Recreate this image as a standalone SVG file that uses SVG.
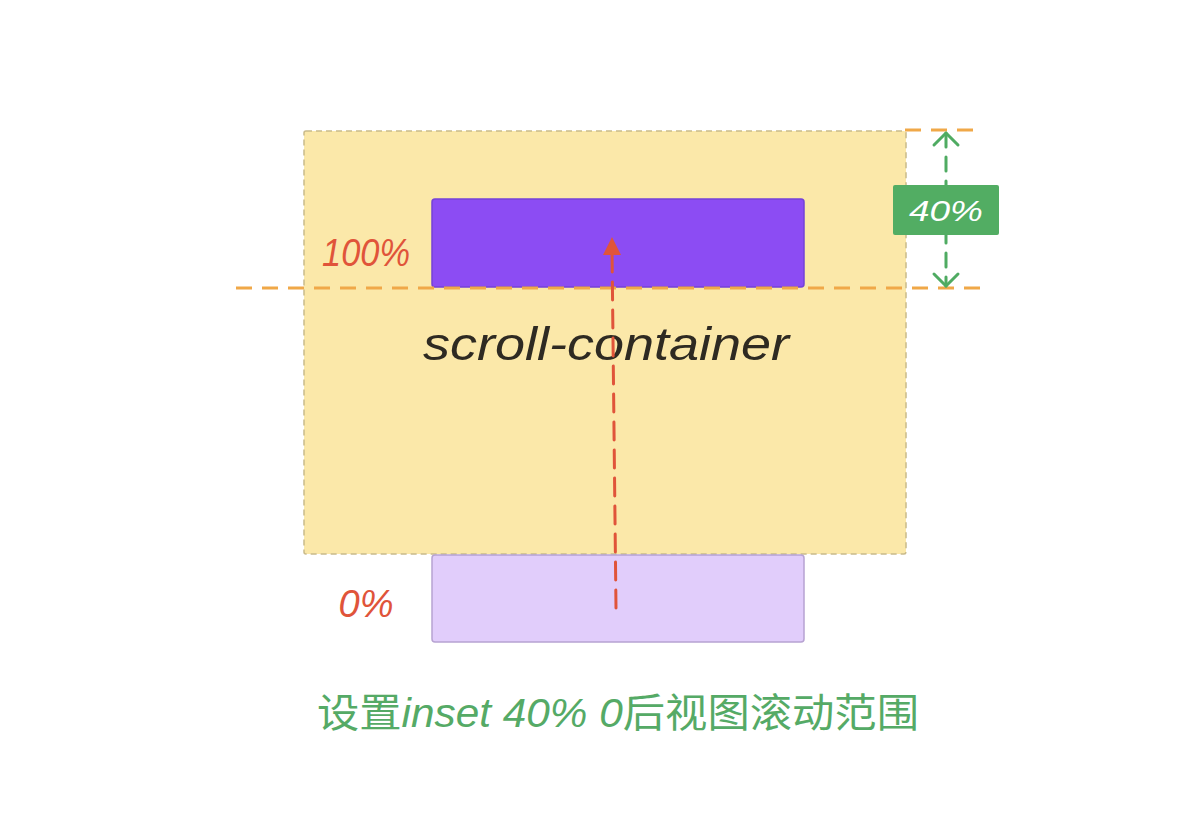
<svg xmlns="http://www.w3.org/2000/svg" width="1200" height="828" viewBox="0 0 1200 828">
<style>
.hand{font-family:"Liberation Sans","Noto Sans",sans-serif;font-style:italic}
.pct{fill:#e0543a;font-size:38px}
.orange{stroke:#f0a848;stroke-width:3;stroke-dasharray:16 10;fill:none}
.ghead{fill:none;stroke:#4fab62;stroke-width:3;stroke-linecap:round;stroke-linejoin:round}
</style>
<rect width="1200" height="828" fill="#ffffff"/>
<g id="scroll-container">
<rect x="304" y="131" width="602" height="423" rx="2" fill="#fbe8a9" stroke="#c9ba8a" stroke-width="1.5" stroke-dasharray="6 4"/>
<text class="hand" x="606" y="360" text-anchor="middle" font-size="46" fill="#2e2a22" textLength="366" lengthAdjust="spacingAndGlyphs">scroll-container</text>
</g>
<g id="target-end">
<rect x="432" y="199" width="372" height="88" rx="3" fill="#8c4cf3" stroke="#7442d8" stroke-width="1.5"/>
</g>
<g id="target-start">
<rect x="432" y="555" width="372" height="87" rx="3" fill="#e1cdfb" stroke="#b7a3d2" stroke-width="1.5"/>
</g>
<g id="label-100">
<text class="hand pct" x="366" y="266" text-anchor="middle" textLength="88" lengthAdjust="spacingAndGlyphs">100%</text>
</g>
<g id="label-0">
<text class="hand pct" x="366" y="617" text-anchor="middle" textLength="55" lengthAdjust="spacingAndGlyphs">0%</text>
</g>
<g id="connectors">
<line class="orange" x1="236" y1="288" x2="985" y2="288"/>
<line class="orange" x1="905" y1="130" x2="977" y2="130"/>
<line x1="946" y1="133" x2="946" y2="286" stroke="#4fab62" stroke-width="3" stroke-dasharray="14 10" stroke-linecap="round"/>
<path class="ghead" d="M934,145 L946,133 L958,145"/>
<path class="ghead" d="M934,274 L946,286 L958,274"/>
<line x1="616" y1="608" x2="612" y2="250" stroke="#e0543a" stroke-width="3" stroke-dasharray="18 10" stroke-linecap="round"/>
<path d="M603,255 L612,237 L621,255 Z" fill="#e0543a"/>
</g>
<g id="inset-label">
<rect x="893" y="185" width="106" height="50" rx="2" fill="#52ad63"/>
<text class="hand" x="946" y="221" text-anchor="middle" font-size="30" fill="#ffffff" textLength="74" lengthAdjust="spacingAndGlyphs">40%</text>
</g>
<g id="caption">
<text x="618" y="727" text-anchor="middle" font-size="40" fill="#55aa66" font-family="'Noto Sans CJK SC',sans-serif" textLength="602" lengthAdjust="spacingAndGlyphs">设置<tspan font-style="italic" font-family="'Liberation Sans','Noto Sans CJK SC',sans-serif">inset 40% 0</tspan>后视图滚动范围</text>
</g>
</svg>
